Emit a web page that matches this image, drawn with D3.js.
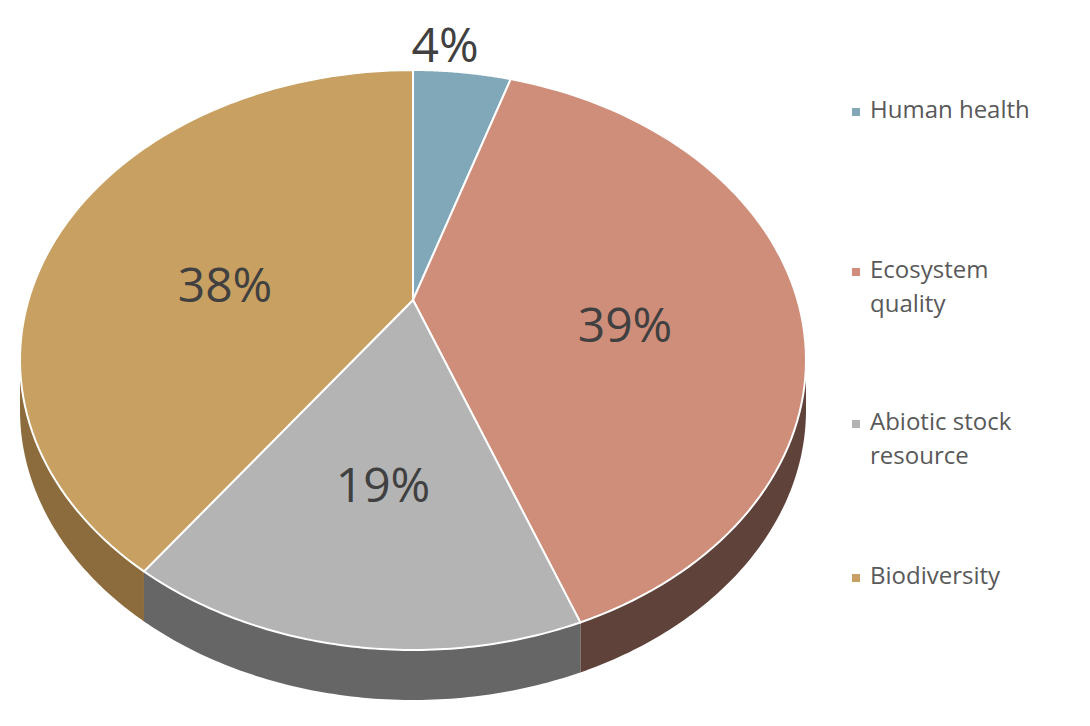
<!DOCTYPE html>
<html lang="en">
<head>
<meta charset="utf-8"/>
<script src="https://d3js.org/d3.v7.min.js"></script>
<style>body{margin:0;background:#fff}</style>
</head>
<body>
<div id="chart"></div>
<script>
var categories = ["Human health", "Ecosystem quality", "Abiotic stock resource", "Biodiversity"];
var legendLines = [["Human health"], ["Ecosystem", "quality"], ["Abiotic stock", "resource"], ["Biodiversity"]];
var values = [4, 39, 19, 38];
var topColors = ["#80a8b9", "#cf8e7a", "#b4b4b4", "#c8a062"];
var sideColors = ["#4f6b77", "#5f433a", "#666666", "#8c6c3c"];

var width = 1090, height = 726;
var cx = 413, cy = 360, rx = 393, ry = 290, apexY = 300, depth = 50;

var svg = d3.select("#chart").append("svg")
    .attr("width", width).attr("height", height)
    .style("font-family", "'Open Sans', 'DejaVu Sans', sans-serif");

var pie = d3.pie().sort(null).value(function (d) { return d; });
var arcs = pie(values);

function pt(t, dy) { return [cx + rx * Math.sin(t), cy - ry * Math.cos(t) + (dy || 0)]; }
function arcPts(a, b, dy) {
    var pts = [], n = 80;
    for (var i = 0; i <= n; i++) pts.push(pt(a + (b - a) * i / n, dy));
    return pts;
}
var line = d3.line();

// sides (front half only)
arcs.forEach(function (d, i) {
    var a = Math.max(d.startAngle, Math.PI / 2), b = Math.min(d.endAngle, 3 * Math.PI / 2);
    if (b <= a) return;
    var upper = arcPts(a, b, 0), lower = arcPts(a, b, depth).reverse();
    svg.append("path").attr("d", line(upper.concat(lower)) + "Z")
        .attr("fill", sideColors[i]);
});

// top faces
arcs.forEach(function (d, i) {
    var pts = [[cx, apexY]].concat(arcPts(d.startAngle, d.endAngle, 0));
    svg.append("path").attr("d", line(pts) + "Z")
        .attr("fill", topColors[i]).attr("stroke", "#fff").attr("stroke-width", 2);
});

// labels
var labelPos = [[445, 62], [625, 342], [383, 502], [225, 302]];
arcs.forEach(function (d, i) {
    svg.append("text").attr("x", labelPos[i][0]).attr("y", labelPos[i][1])
        .attr("text-anchor", "middle").attr("font-size", 48).attr("fill", "#404040")
        .text(values[i] + "%");
});

// legend
var legendY = [118, 278, 430, 584];
legendLines.forEach(function (lines, i) {
    svg.append("rect").attr("x", 852).attr("y", legendY[i] - 10).attr("width", 8).attr("height", 8)
        .attr("fill", topColors[i]);
    lines.forEach(function (t, j) {
        svg.append("text").attr("x", 870).attr("y", legendY[i] + j * 34)
            .attr("font-size", 24).attr("fill", "#595959").text(t);
    });
});
</script>
</body>
</html>
